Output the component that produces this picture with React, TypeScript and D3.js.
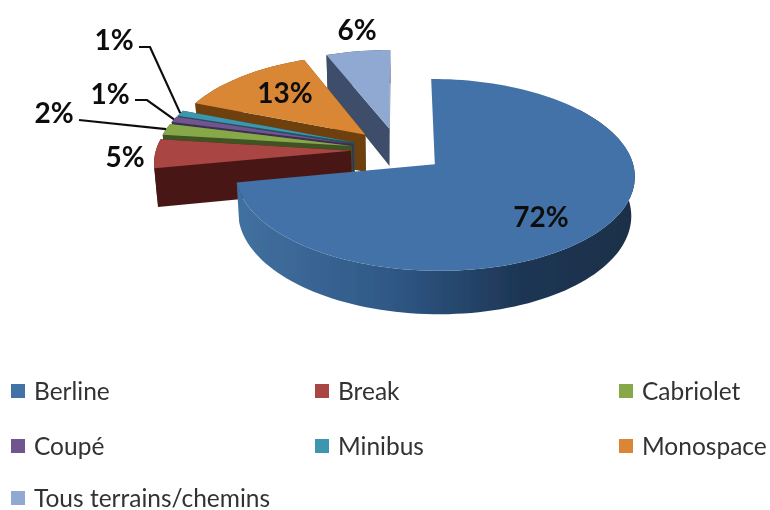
import React from 'react';
import * as d3 from 'd3';

// chart data
const categories = ['Berline', 'Break', 'Cabriolet', 'Coupé', 'Minibus', 'Monospace', 'Tous terrains/chemins'];
const shares = [72, 5, 2, 1, 1, 13, 6];

// styles, same order as the categories
const topColors = ['#4272a8', '#a94543', '#87a84a', '#6f548f', '#3d95ae', '#d98636', '#8fa9d2'];
const wallColors = ['url(#blueWall)', '#4a1815', '#3f5322', '#3d2d52', '#1f5260', '#6e400f', '#3d4d6a'];

// label anchors (screen px)
const labelX = [541, 125, 54, 110, 114, 285, 357];
const labelY = [217, 157, 113, 94, 40, 93, 30];
// leader lines: [index of slice, elbow points from the label side]
const leaders: [number, [number, number][]][] = [
  [4, [[139, 47], [150, 47]]],
  [3, [[135, 100], [147, 100]]],
  [2, [[79, 120]]],
];

// 3D-ish projection of the pie
const CX = 398, CY = 150, RADIUS = 195, EXPLODE = 47, FOCAL = 1800, FLAT = 0.47, DEPTH = 38;
const STEP = Math.PI / 90;

const project = (x: number, y: number, z: number): [number, number] => {
  const s = 1 / (1 - y / FOCAL);
  const shrink = z ? 0.985 : 1;
  return [CX + x * s * shrink, CY + y * FLAT * s + z * DEPTH * s];
};

const line = d3.line();
const pie = d3.pie<number>().sort(null).value((d) => d);
const arcs = pie(shares);

const offset = (a: d3.PieArcDatum<number>): [number, number] => {
  const mid = (a.startAngle + a.endAngle) / 2;
  return [EXPLODE * Math.sin(mid), -EXPLODE * Math.cos(mid)];
};

const rimPoint = (a: d3.PieArcDatum<number>, angle: number, z: number) => {
  const [ox, oy] = offset(a);
  return project(ox + RADIUS * Math.sin(angle), oy - RADIUS * Math.cos(angle), z);
};

const rim = (a: d3.PieArcDatum<number>, z: number) => {
  const n = Math.max(2, Math.ceil((a.endAngle - a.startAngle) / STEP));
  return d3.range(n + 1).map((i) => rimPoint(a, a.startAngle + ((a.endAngle - a.startAngle) * i) / n, z));
};

const Slice: React.FC<{ index: number }> = ({ index }) => {
  const a = arcs[index];
  const [ox, oy] = offset(a);
  const apexTop = project(ox, oy, 0);
  const apexBottom = project(ox, oy, 1);
  const top = rim(a, 0);
  const bottom = rim(a, 1);
  const wall = wallColors[index];
  // the big slice only shows its front rim, the back part would poke out past the top
  const from = index === 0 ? Math.floor(top.length * 0.2) : 0;
  return (
    <g>
      {index !== 0 && <path d={line([apexTop, top[0], bottom[0], apexBottom])! + 'Z'} fill={wall} />}
      {index !== 0 && (
        <path d={line([apexTop, top[top.length - 1], bottom[bottom.length - 1], apexBottom])! + 'Z'} fill={wall} />
      )}
      <path d={line([...top.slice(from), ...bottom.slice(from).reverse()])! + 'Z'} fill={wall} />
      <path d={line([apexTop, ...top])! + 'Z'} fill={topColors[index]} />
    </g>
  );
};

// legend layout
const legendCols = [11, 315, 619];
const legendRows = [391, 446, 498];
const legendFont = '"Lato", "Open Sans", sans-serif';

export default function App() {
  const drawOrder = [6, 5, 4, 3, 2, 1, 0];
  return (
    <svg width={770} height={510} style={{ position: 'absolute', left: 0, top: 0 }} fontFamily={legendFont}>
      <defs>
        <linearGradient id="blueWall" gradientUnits="userSpaceOnUse" x1={240} x2={630} y1={0} y2={0}>
          <stop offset="0" stopColor="#41709f" />
          <stop offset="0.4" stopColor="#2f5785" />
          <stop offset="0.72" stopColor="#1d3654" />
          <stop offset="1" stopColor="#1a2f49" />
        </linearGradient>
        <filter id="soft" x="-5%" y="-5%" width="110%" height="110%">
          <feGaussianBlur stdDeviation="0.6" />
        </filter>
      </defs>
      <g filter="url(#soft)">
        {drawOrder.map((i) => (
          <Slice key={i} index={i} />
        ))}
        {leaders.map(([i, pts]) => {
          const a = arcs[i];
          const end = rimPoint(a, (a.startAngle + a.endAngle) / 2, 0);
          return <path key={i} d={line([...pts, end])!} fill="none" stroke="#111" strokeWidth={2.2} />;
        })}
        {shares.map((v, i) => (
          <text key={i} x={labelX[i]} y={labelY[i]} dy="0.35em" textAnchor="middle" fontSize={28} fontWeight={700} fill="#111">
            {v}%
          </text>
        ))}
        {categories.map((c, i) => {
          const col = legendCols[i % 3];
          const row = legendRows[Math.floor(i / 3)];
          return (
            <g key={c}>
              <rect x={col} y={row - 7} width={14} height={14} fill={topColors[i]} />
              <text x={col + 23} y={row} dy="0.35em" fontSize={24.5} fill="#333">
                {c}
              </text>
            </g>
          );
        })}
      </g>
    </svg>
  );
}
